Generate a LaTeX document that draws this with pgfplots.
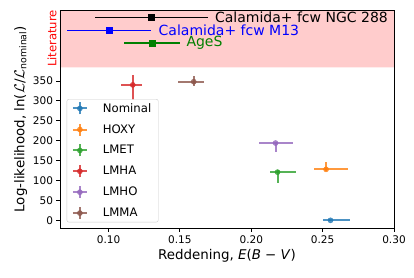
\documentclass[border=0pt]{standalone}
\usepackage{pgfplots}
\pgfplotsset{compat=1.18}
\usepackage{fontspec}
\setmainfont{DejaVu Sans}
\definecolor{c0}{HTML}{1F77B4}
\definecolor{c1}{HTML}{FF7F0E}
\definecolor{c2}{HTML}{2CA02C}
\definecolor{c3}{HTML}{D62728}
\definecolor{c4}{HTML}{9467BD}
\definecolor{c5}{HTML}{8C564B}
\definecolor{pinkbg}{HTML}{FFCCCC}
\definecolor{mplgreen}{HTML}{008000}
\pgfplotsset{
  mainpt/.style={only marks, mark=*, mark size=2.6pt, opacity=0.8,
    error bars/.cd, x dir=both, x explicit, y dir=both, y explicit,
    error bar style={line width=2pt}, error mark=none, /pgfplots/.cd},
  litpt/.style={only marks, mark=square*, mark size=3pt, forget plot,
    error bars/.cd, x dir=both, x explicit,
    error bar style={line width=1.6pt}, error mark=none, /pgfplots/.cd},
}
\begin{document}
\begin{tikzpicture}
\begin{axis}[
  name=main,
  scale only axis,
  width=334pt, height=218.3pt,
  xmin=0.066, xmax=0.30,
  ymin=-20, ymax=528,
  xtick={0.10,0.15,0.20,0.25,0.30},
  xticklabels={0.10,0.15,0.20,0.25,0.30},
  ytick={0,50,100,150,200,250,300,350},
  tick align=outside,
  xtick pos=left, ytick pos=left,
  major tick length=3.5pt,
  tick style={black, line width=0.8pt},
  axis line style={line width=0.8pt},
  /pgf/number format/assume math mode=true,
  tick label style={font=\fontsize{10.5}{12}\selectfont},
  label style={font=\fontsize{13.4}{15}\selectfont},
  xlabel={Reddening, \textit{E}(\textit{B} − \textit{V})},
  ylabel={Log-likelihood, ln($\mathcal{L}$/$\mathcal{L}$\textsubscript{nominal})},
  xlabel style={yshift=1pt},
  ylabel style={yshift=-1pt},
  axis on top,
  clip=false,
  legend style={at={(0.02,0.0275)}, anchor=south west, draw=black!20,
    rounded corners=2pt, font=\fontsize{11.7}{14}\selectfont,
    row sep=6.8pt, inner xsep=5pt, inner ysep=2pt},
  legend cell align=left,
  legend image code/.code={
    \path[draw=none, fill=none] (0pt,0pt) (28pt,0pt);
    \draw[line width=2pt] (0pt,0pt)--(14pt,0pt) (7pt,-6pt)--(7pt,6pt);
    \fill (7pt,0pt) circle (2.6pt);
  },
]
\addplot[fill=pinkbg, draw=none, forget plot] coordinates {(0.066,384) (0.30,384) (0.30,528) (0.066,528) (0.066,384)};

\addplot[color=c0, mainpt] coordinates {(0.2555,0) += (0.0135,1) -= (0.0055,1)};
\addlegendentry{Nominal}
\addplot[color=c1, mainpt] coordinates {(0.2524,128) += (0.0152,18) -= (0.0084,5)};
\addlegendentry{HOXY}
\addplot[color=c2, mainpt] coordinates {(0.2184,121) += (0.0128,5) -= (0.0051,27)};
\addlegendentry{LMET}
\addplot[color=c3, mainpt] coordinates {(0.117,340) += (0.0066,24) -= (0.0086,43)};
\addlegendentry{LMHA}
\addplot[color=c4, mainpt] coordinates {(0.217,194) += (0.0124,3) -= (0.0114,22)};
\addlegendentry{LMHO}
\addplot[color=c5, mainpt] coordinates {(0.1597,348) += (0.007,14) -= (0.0112,11)};
\addlegendentry{LMMA}

\addplot[color=black, litpt] coordinates {(0.130,509) +- (0.0395,0)};
\addplot[color=blue, litpt] coordinates {(0.1005,477) +- (0.0295,0)};
\addplot[color=mplgreen, litpt] coordinates {(0.1305,445) +- (0.0195,0)};

\node[anchor=west, inner sep=0pt, font=\fontsize{14}{16}\selectfont, text=black] at (axis cs:0.1745,509) {Calamida+ fcw NGC 288};
\node[anchor=west, inner sep=0pt, font=\fontsize{14}{16}\selectfont, text=blue] at (axis cs:0.1350,477) {Calamida+ fcw M13};
\node[anchor=west, inner sep=0pt, font=\fontsize{14}{16}\selectfont, text=mplgreen] at (axis cs:0.1545,445) {AgeS};
\node[rotate=90, inner sep=0pt, anchor=center, text=red, font=\fontsize{11.6}{13}\selectfont] at (axis cs:0.0604,456.5) {Literature};
\end{axis}
\pgfresetboundingbox
\path (-60pt,-48.7pt) rectangle (354pt,228.3pt);
\end{tikzpicture}
\end{document}
